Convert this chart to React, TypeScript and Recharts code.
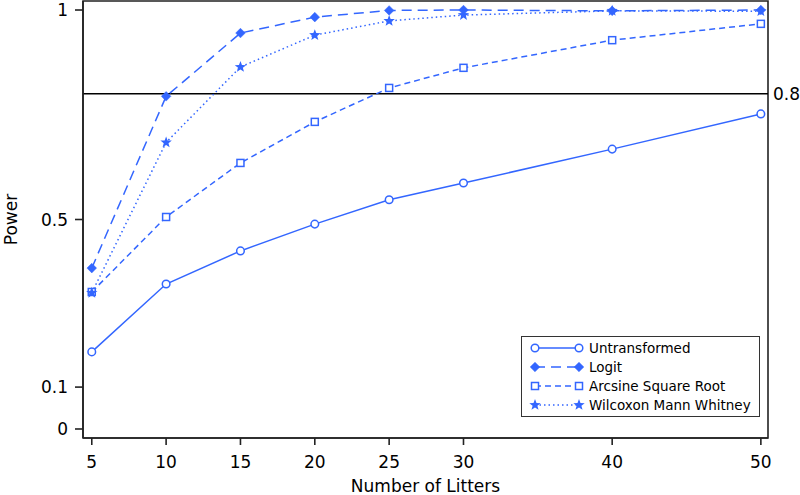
import React from 'react';
import { LineChart, Line, XAxis, YAxis, ReferenceLine, ReferenceArea } from 'recharts';

const litters = [5, 10, 15, 20, 25, 30, 40, 50];
const untransformed = [0.184, 0.346, 0.425, 0.489, 0.547, 0.587, 0.668, 0.752];
const logit = [0.384, 0.794, 0.945, 0.983, 0.999, 1.0, 0.998, 1.0];
const arcsine = [0.327, 0.506, 0.635, 0.733, 0.814, 0.862, 0.928, 0.967];
const wilcoxon = [0.325, 0.684, 0.864, 0.94, 0.974, 0.988, 0.998, 0.997];

const xTicks = [5, 10, 15, 20, 25, 30, 40, 50];
const yTicks = [0, 0.1, 0.5, 1];
const xDomain = [4.41, 50.48];
const yDomain = [-0.0215, 1.0215];
const refValue = 0.8;
const seriesNames = ['Untransformed', 'Logit', 'Arcsine Square Root', 'Wilcoxon Mann Whitney'];

const data = litters.map((n, i) => ({
  n,
  u: untransformed[i],
  l: logit[i],
  a: arcsine[i],
  w: wilcoxon[i],
}));

const BLUE = '#3366ff';
const FONT = 'DejaVu Sans';

const starPath = (cx: number, cy: number, R: number, r: number) => {
  let d = '';
  for (let k = 0; k < 10; k++) {
    const rad = k % 2 === 0 ? R : r;
    const ang = -Math.PI / 2 + (k * Math.PI) / 5;
    d += (k === 0 ? 'M' : 'L') + (cx + rad * Math.cos(ang)).toFixed(2) + ',' + (cy + rad * Math.sin(ang)).toFixed(2);
  }
  return d + 'Z';
};

const Marker = ({ kind, cx, cy }: { kind: number; cx: number; cy: number }) => {
  if (kind === 0) return <circle cx={cx} cy={cy} r={3.8} fill="#fff" stroke={BLUE} strokeWidth={1.5} />;
  if (kind === 1)
    return <path d={`M${cx},${cy - 4.8}L${cx + 4.8},${cy}L${cx},${cy + 4.8}L${cx - 4.8},${cy}Z`} fill={BLUE} stroke={BLUE} strokeWidth={0.5} />;
  if (kind === 2)
    return <rect x={cx - 3.5} y={cy - 3.5} width={7} height={7} fill="#fff" stroke={BLUE} strokeWidth={1.5} />;
  return <path d={starPath(cx, cy, 6, 2.5)} fill={BLUE} />;
};

const dotFor = (kind: number) => (p: any) => <Marker key={`${kind}-${p.index}`} kind={kind} cx={p.cx} cy={p.cy} />;

const dashes = [undefined, '10 6', '6 4', '1.5 3'];
const keys = ['u', 'l', 'a', 'w'];

const LegendBox = () => (
  <svg width={240} height={82} style={{ position: 'absolute', left: 521, top: 336 }}>
    <rect x={0.5} y={0.5} width={238} height={80} fill="#fff" stroke="#333" strokeWidth={1} />
    {seriesNames.map((name, i) => {
      const y = 12 + i * 19;
      return (
        <g key={name}>
          <line x1={14} x2={58} y1={y} y2={y} stroke={BLUE} strokeWidth={1.5} strokeDasharray={dashes[i]} />
          <Marker kind={i} cx={14} cy={y} />
          <Marker kind={i} cx={58} cy={y} />
          <text x={68} y={y} dominantBaseline="central" fontSize={13.5} fontFamily={FONT} fill="#000">
            {name}
          </text>
        </g>
      );
    })}
  </svg>
);

export default function App() {
  return (
    <div style={{ position: 'absolute', left: 0, top: 0, width: 800, height: 495, background: '#fff' }}>
      <LineChart width={800} height={495} data={data} margin={{ top: 1, right: 32, bottom: 0, left: 0 }}>
        <XAxis
          dataKey="n"
          type="number"
          domain={xDomain}
          ticks={xTicks}
          allowDataOverflow
          height={57}
          tickSize={7}
          tickMargin={11}
          stroke="#222"
          strokeWidth={1.6}
          tick={{ fill: '#000', fontSize: 17, fontFamily: FONT }}
          label={{
            content: (p: any) => (
              <text
                x={p.viewBox.x + p.viewBox.width / 2}
                y={492}
                textAnchor="middle"
                fontSize={17}
                fontFamily={FONT}
                fill="#000"
              >
                Number of Litters
              </text>
            ),
          }}
        />
        <YAxis
          type="number"
          domain={yDomain}
          ticks={yTicks}
          allowDataOverflow
          width={83}
          tickSize={8}
          tickMargin={7}
          stroke="#222"
          strokeWidth={1.6}
          tick={{ fill: '#000', fontSize: 17, fontFamily: FONT }}
          label={{
            content: (p: any) => {
              const cy = p.viewBox.y + p.viewBox.height / 2;
              return (
                <text
                  x={11}
                  y={cy}
                  transform={`rotate(-90, 11, ${cy})`}
                  textAnchor="middle"
                  dominantBaseline="central"
                  fontSize={17}
                  fontFamily={FONT}
                  fill="#000"
                >
                  Power
                </text>
              );
            },
          }}
        />
        <ReferenceArea
          x1={xDomain[0]}
          x2={xDomain[1]}
          y1={yDomain[0]}
          y2={yDomain[1]}
          fill="#fff"
          fillOpacity={0}
          stroke="#222"
          strokeWidth={1.6}
          strokeOpacity={1}
        />
        <ReferenceLine
          y={refValue}
          stroke="#000"
          strokeWidth={1.4}
          label={{ value: String(refValue), position: 'right', fill: '#000', fontSize: 17, fontFamily: FONT, offset: 5 }}
        />
        {keys.map((k, i) => (
          <Line
            key={k}
            dataKey={k}
            name={seriesNames[i]}
            type="linear"
            stroke={BLUE}
            strokeWidth={1.5}
            strokeDasharray={dashes[i]}
            dot={dotFor(i)}
            activeDot={false}
            isAnimationActive={false}
          />
        ))}
      </LineChart>
      <LegendBox />
    </div>
  );
}
